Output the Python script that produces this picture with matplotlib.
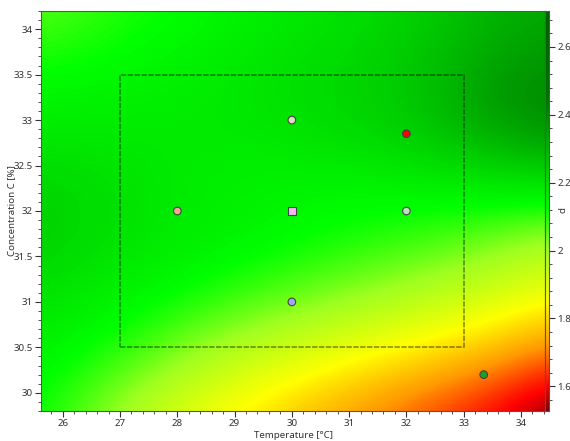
import matplotlib
matplotlib.use("Agg")
import matplotlib.pyplot as plt
import numpy as np
from matplotlib.colors import LinearSegmentedColormap, Normalize
from matplotlib.ticker import MultipleLocator, FuncFormatter

plt.rcParams['font.family'] = ['Noto Sans', 'DejaVu Sans']

# response surface values (cell centres)
temp_c = [25.5, 26.5, 27.5, 28.5, 29.5, 30.5, 31.5, 32.5, 33.5, 34.5]
conc_c = [29.75, 30.25, 30.75, 31.25, 31.75, 32.25, 32.75, 33.25, 33.75, 34.25]
surface = [
    [2.12, 2.04, 1.95, 1.87, 1.81, 1.75, 1.70, 1.65, 1.60, 1.53],
    [2.14, 2.09, 2.03, 1.96, 1.90, 1.85, 1.80, 1.75, 1.70, 1.63],
    [2.17, 2.14, 2.10, 2.05, 2.01, 1.97, 1.93, 1.89, 1.84, 1.78],
    [2.21, 2.18, 2.15, 2.12, 2.09, 2.06, 2.03, 2.00, 1.96, 1.91],
    [2.24, 2.21, 2.18, 2.16, 2.14, 2.12, 2.10, 2.08, 2.05, 2.01],
    [2.23, 2.21, 2.18, 2.16, 2.15, 2.14, 2.14, 2.15, 2.16, 2.17],
    [2.18, 2.18, 2.17, 2.17, 2.17, 2.19, 2.21, 2.25, 2.30, 2.35],
    [2.14, 2.15, 2.16, 2.17, 2.19, 2.21, 2.24, 2.28, 2.37, 2.40],
    [2.10, 2.11, 2.13, 2.15, 2.18, 2.20, 2.23, 2.27, 2.33, 2.36],
    [2.05, 2.08, 2.11, 2.13, 2.16, 2.18, 2.21, 2.25, 2.30, 2.33],
]

# design points
pt_temp = [28, 30, 32, 30, 32, 33.35]
pt_conc = [32, 33, 32, 31, 32.85, 30.2]
pt_colors = ['#f5a890', '#e0dcc0', '#c0e0c0', '#a0a8f0', '#ff0000', '#20a020']
center_pt = (30, 32)
center_color = '#f4b8f0'

# design region
box_t = [27, 33]
box_c = [30.5, 33.5]

vmin, vmax = 1.527, 2.706
cmap_vals = [1.527, 1.60, 1.72, 1.85, 2.00, 2.12, 2.25, 2.45, 2.706]
cmap_cols = ['#7a0000', '#ff0000', '#ff9a00', '#ffff00', '#a0ff20',
             '#00ff00', '#00cc00', '#007400', '#006000']
cmap = LinearSegmentedColormap.from_list(
    'rsm', [((v - vmin) / (vmax - vmin), c) for v, c in zip(cmap_vals, cmap_cols)])
norm = Normalize(vmin, vmax)

fmt = FuncFormatter(lambda v, p: '%g' % round(v, 3))

fig = plt.figure(figsize=(5.7, 4.41), dpi=100)
ax = fig.add_axes([41 / 570, 30 / 441, 504 / 570, 400 / 441])
cax = fig.add_axes([545 / 570, 30 / 441, 4 / 570, 400 / 441])

ax.imshow(np.array(surface), origin='lower', cmap=cmap, norm=norm,
          extent=[temp_c[0] - 0.5, temp_c[-1] + 0.5, conc_c[0] - 0.25, conc_c[-1] + 0.25],
          interpolation='bicubic', aspect='auto')
ax.set_xlim(25.62, 34.42)
ax.set_ylim(29.8, 34.2)

ax.plot([box_t[0], box_t[1], box_t[1], box_t[0], box_t[0]],
        [box_c[0], box_c[0], box_c[1], box_c[1], box_c[0]],
        color='black', alpha=0.4, lw=1.3, linestyle=(0, (3, 0.8)))

ax.scatter(pt_temp, pt_conc, s=30, c=pt_colors, edgecolors='#444444', linewidths=0.8, zorder=3)
ax.scatter([center_pt[0]], [center_pt[1]], s=34, marker='s', c=center_color,
           edgecolors='#444444', linewidths=0.8, zorder=3)

ax.xaxis.set_major_locator(MultipleLocator(1))
ax.xaxis.set_minor_locator(MultipleLocator(0.2))
ax.yaxis.set_major_locator(MultipleLocator(0.5))
ax.yaxis.set_minor_locator(MultipleLocator(0.1))
ax.xaxis.set_major_formatter(fmt)
ax.yaxis.set_major_formatter(fmt)
ax.tick_params(which='major', length=4, width=0.8, colors='#333333', labelsize=7, pad=2)
ax.tick_params(which='minor', length=2, width=0.6, colors='#333333')
for s in ax.spines.values():
    s.set_color('#555555')
ax.set_xlabel('Temperature [°C]', fontsize=7, color='#333333', labelpad=2)
ax.set_ylabel('Concentration C [%]', fontsize=7, color='#333333', labelpad=-2)

grad = np.linspace(vmin, vmax, 256).reshape(-1, 1)
cax.imshow(grad, origin='lower', cmap=cmap, norm=norm, aspect='auto',
           extent=[0, 1, vmin, vmax])
cax.set_xticks([])
cax.yaxis.tick_right()
cax.yaxis.set_major_locator(MultipleLocator(0.2))
cax.yaxis.set_minor_locator(MultipleLocator(0.04))
cax.yaxis.set_major_formatter(fmt)
cax.tick_params(which='major', length=4, width=0.8, colors='#333333', labelsize=7, pad=2)
cax.tick_params(which='minor', length=2.5, width=0.6, colors='#333333')
for s in cax.spines.values():
    s.set_color('#555555')
cax.set_ylim(vmin, vmax)

fig.text(559 / 570, 1 - 210 / 441, 'd', rotation=90, fontsize=7, color='#333333',
         ha='left', va='center')

fig.savefig('out.png', dpi=100)
